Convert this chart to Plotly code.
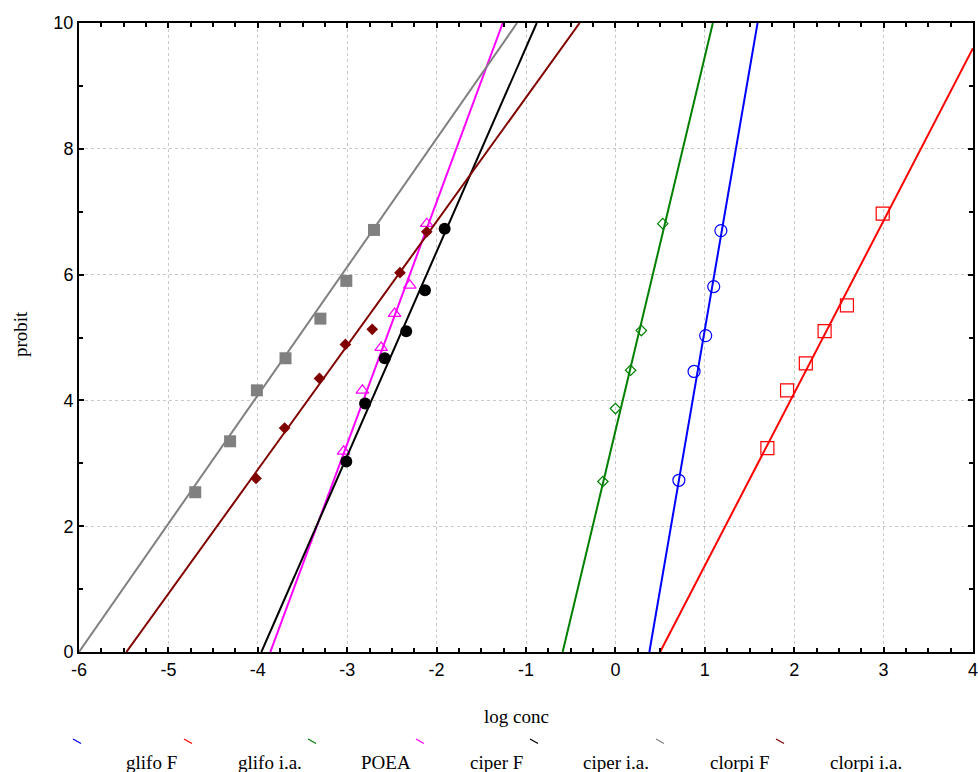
import plotly.graph_objects as go

# ---- data ----
names = ["glifo F", "glifo i.a.", "POEA", "ciper F", "ciper i.a.", "clorpi F", "clorpi i.a."]
colors = ["#0000ff", "#ff0000", "#008000", "#ff00ff", "#000000", "#808080", "#800000"]

glifoF_x = [0.71, 0.88, 1.01, 1.10, 1.18]
glifoF_y = [2.73, 4.46, 5.03, 5.81, 6.70]

glifoIA_x = [1.70, 1.92, 2.13, 2.34, 2.59, 2.99]
glifoIA_y = [3.24, 4.16, 4.59, 5.10, 5.51, 6.97]

poea_x = [-0.14, 0.00, 0.17, 0.29, 0.53]
poea_y = [2.71, 3.87, 4.48, 5.11, 6.81]

ciperF_x = [-3.04, -2.83, -2.62, -2.47, -2.30, -2.11]
ciperF_y = [3.19, 4.16, 4.84, 5.38, 5.83, 6.81]

ciperIA_x = [-3.01, -2.80, -2.58, -2.34, -2.13, -1.91]
ciperIA_y = [3.03, 3.95, 4.67, 5.10, 5.75, 6.73]

clorpiF_x = [-4.70, -4.31, -4.01, -3.69, -3.30, -3.01, -2.70]
clorpiF_y = [2.54, 3.35, 4.16, 4.67, 5.30, 5.90, 6.71]

clorpiIA_x = [-4.02, -3.70, -3.31, -3.02, -2.72, -2.41, -2.11]
clorpiIA_y = [2.76, 3.56, 4.35, 4.89, 5.13, 6.03, 6.68]

# fitted probit lines: end points (x, y)
glifoF_line_x = [0.38, 1.59];   glifoF_line_y = [0, 10]
glifoIA_line_x = [0.50, 4.00];  glifoIA_line_y = [0, 9.6]
poea_line_x = [-0.59, 1.09];    poea_line_y = [0, 10]
ciperF_line_x = [-3.86, -1.26]; ciperF_line_y = [0, 10]
ciperIA_line_x = [-3.96, -0.88]; ciperIA_line_y = [0, 10]
clorpiF_line_x = [-6.00, -1.10]; clorpiF_line_y = [0, 10]
clorpiIA_line_x = [-5.47, -0.40]; clorpiIA_line_y = [0, 10]

x_ticks = [-6, -5, -4, -3, -2, -1, 0, 1, 2, 3, 4]
y_ticks = [0, 2, 4, 6, 8, 10]

pts = [(glifoF_x, glifoF_y), (glifoIA_x, glifoIA_y), (poea_x, poea_y), (ciperF_x, ciperF_y),
       (ciperIA_x, ciperIA_y), (clorpiF_x, clorpiF_y), (clorpiIA_x, clorpiIA_y)]
lines = [(glifoF_line_x, glifoF_line_y), (glifoIA_line_x, glifoIA_line_y), (poea_line_x, poea_line_y),
         (ciperF_line_x, ciperF_line_y), (ciperIA_line_x, ciperIA_line_y),
         (clorpiF_line_x, clorpiF_line_y), (clorpiIA_line_x, clorpiIA_line_y)]
markers = [
    dict(symbol="circle-open", size=12, line=dict(width=1.2)),
    dict(symbol="square-open", size=13, line=dict(width=1.2)),
    dict(symbol="diamond-open", size=8, line=dict(width=1.2)),
    dict(symbol="triangle-up-open", size=11, line=dict(width=1.2)),
    dict(symbol="circle", size=12),
    dict(symbol="square", size=12),
    dict(symbol="diamond", size=9),
]

fig = go.Figure()
for name, col, (lx, ly), (px, py), mk in zip(names, colors, lines, pts, markers):
    fig.add_trace(go.Scatter(x=lx, y=ly, mode="lines", line=dict(color=col, width=2),
                             showlegend=False, hoverinfo="skip", cliponaxis=True))
    m = dict(mk); m["color"] = col
    fig.add_trace(go.Scatter(x=px, y=py, mode="markers", marker=m, name=name, showlegend=False))

# plot area in pixels
L, R, T, B = 79, 973, 23, 652
W, H = 978, 772
pw, ph = R - L, B - T

def px2paper(x, y):
    return (x - L) / pw, (B - y) / ph

# custom legend (short diagonal strokes above, labels below)
sym_x = [77, 188, 312, 420, 534, 660, 780]
lab_x = [151, 270, 386, 496, 616, 740, 866]
shapes = []
annotations = []
for name, col, sx, lx in zip(names, colors, sym_x, lab_x):
    x0, y0 = px2paper(sx - 4, 739)
    x1, y1 = px2paper(sx + 4, 743.5)
    shapes.append(dict(type="line", xref="paper", yref="paper", x0=x0, y0=y0, x1=x1, y1=y1,
                       line=dict(color=col, width=1.3)))
    ax, ay = px2paper(lx, 762)
    annotations.append(dict(text=name, xref="paper", yref="paper", x=ax, y=ay, showarrow=False,
                            xanchor="center", yanchor="middle",
                            font=dict(family="Liberation Serif", size=19, color="black")))

tx, ty = px2paper(516, 717)
annotations.append(dict(text="log conc", xref="paper", yref="paper", x=tx, y=ty, showarrow=False,
                        xanchor="center", yanchor="middle",
                        font=dict(family="Liberation Serif", size=19, color="black")))
tx, ty = px2paper(20, 334)
annotations.append(dict(text="probit", xref="paper", yref="paper", x=tx, y=ty, showarrow=False,
                        textangle=-90, xanchor="center", yanchor="middle",
                        font=dict(family="Liberation Serif", size=19, color="black")))

axis_common = dict(showline=True, linecolor="black", linewidth=2, mirror="allticks",
                   ticks="inside", ticklen=5, tickcolor="black", tickwidth=2,
                   showgrid=True, gridcolor="#c8c8c8", griddash="dot", gridwidth=1,
                   zeroline=False, automargin=False, ticklabeloverflow="allow",
                   tickfont=dict(family="Liberation Sans", size=18, color="black"))

fig.update_layout(
    width=W, height=H,
    margin=dict(l=L, r=W - R, t=T, b=H - B, autoexpand=False),
    paper_bgcolor="white", plot_bgcolor="white",
    showlegend=False,
    shapes=shapes, annotations=annotations,
    xaxis=dict(range=[-6, 4], tickvals=x_ticks, ticktext=[str(v) for v in x_ticks],
               minor=dict(dtick=0.25, ticks="inside", ticklen=4, tickcolor="black", tickwidth=2,
                          showgrid=False),
               **axis_common),
    yaxis=dict(range=[0, 10], tickvals=y_ticks, ticktext=[str(v) for v in y_ticks],
               minor=dict(dtick=1, ticks="inside", ticklen=4, tickcolor="black", tickwidth=2,
                          showgrid=False),
               **axis_common),
)

fig.write_html("out.html")
